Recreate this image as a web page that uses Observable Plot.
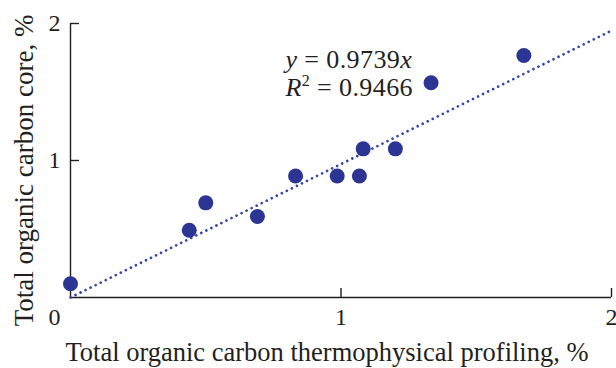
<!DOCTYPE html>
<html><head><meta charset="utf-8">
<script src="https://cdn.jsdelivr.net/npm/d3@7"></script>
<script src="https://cdn.jsdelivr.net/npm/@observablehq/plot@0.6"></script>
<style>
html,body{margin:0;padding:0;background:#fff;}
</style>
</head><body><div id="chart"></div>
<script>
// Data
const tocThermo = [0.00, 0.439, 0.500, 0.691, 0.832, 0.986, 1.068, 1.082, 1.201, 1.333, 1.676];
const tocCore   = [0.10, 0.491, 0.691, 0.591, 0.887, 0.887, 0.887, 1.085, 1.085, 1.567, 1.766];
const xTicks = [1, 2];
const yTicks = [1, 2];
const originLabel = ["0"];
const slope = 0.9739;
const r2 = 0.9466;
const xLabel = ["Total organic carbon thermophysical profiling, %"];
const yLabel = ["Total organic carbon core, %"];
const xDomain = [0, 2];
const yDomain = [0, 2];

const points = tocThermo.map((x, i) => ({x, y: tocCore[i]}));
const fit = xDomain.map(x => ({x, y: slope * x}));
const eq1 = `y = ${slope}x`;
const eq2 = `R2 = ${r2}`;

const blue = "#2c3494";
const lineBlue = "#3346a8";
const ink = "#231f20";
const serif = "'Liberation Serif', 'Times New Roman', serif";

const chart = Plot.plot({
  width: 616, height: 368,
  marginLeft: 70, marginRight: 5, marginTop: 23, marginBottom: 71,
  x: {domain: xDomain, axis: null},
  y: {domain: yDomain, axis: null},
  style: {fontFamily: serif, background: "#fff"},
  marks: [
    Plot.ruleX([xDomain[0]], {y1: yDomain[0], y2: yDomain[1], stroke: ink, strokeWidth: 1.4}),
    Plot.ruleY([yDomain[0]], {x1: xDomain[0], x2: xDomain[1], stroke: ink, strokeWidth: 1.4}),
    Plot.ruleX(xTicks, {x: d => d, y1: 0, y2: 0, insetTop: -9, stroke: ink, strokeWidth: 1.4}),
    Plot.ruleY(yTicks, {y: d => d, x1: 0, x2: 0, insetRight: -9, stroke: ink, strokeWidth: 1.4}),
    Plot.text(xTicks, {x: d => d, y: 0, text: d => String(d), dy: 19.5, fontSize: 24, fill: ink}),
    Plot.text(yTicks, {x: 0, y: d => d, text: d => String(d), textAnchor: "end", dx: -10, fontSize: 24, fill: ink}),
    Plot.text(originLabel, {x: 0, y: 0, text: d => d, textAnchor: "end", dx: -10, dy: 19.5, fontSize: 24, fill: ink}),
    Plot.text(xLabel, {frameAnchor: "bottom", text: d => d, textAnchor: "middle", lineAnchor: "middle", dx: -14, dy: 55, fontSize: 26.5, fill: ink}),
    Plot.text(yLabel, {frameAnchor: "left", rotate: -90, text: d => d, textAnchor: "middle", lineAnchor: "middle", dx: -46.6, dy: 10, fontSize: 27, fill: ink}),
    Plot.line(fit, {x: "x", y: "y", stroke: lineBlue, strokeWidth: 2.7, strokeLinecap: "round", strokeDasharray: "0.01,5.6"}),
    Plot.dot(points, {x: "x", y: "y", r: 7.5, fill: blue, stroke: "none"}),
    Plot.text([eq1], {frameAnchor: "top-left", text: d => d, textAnchor: "start", lineAnchor: "middle", dx: 215, dy: 36.5, fontSize: 26, fill: ink}),
    Plot.text([eq2], {frameAnchor: "top-left", text: d => d, textAnchor: "start", lineAnchor: "middle", dx: 215, dy: 64, fontSize: 26, fill: ink})
  ]
});

// Rich formatting of the equation (italics, superscript), keeping real text
d3.select(chart).selectAll("text").each(function() {
  const t = this.textContent;
  const sel = d3.select(this);
  if (t === eq1) {
    sel.text(null).attr("letter-spacing", "0.4");
    sel.append("tspan").attr("font-style", "italic").text("y");
    sel.append("tspan").text(` = ${slope}`);
    sel.append("tspan").attr("font-style", "italic").text("x");
  } else if (t === eq2) {
    sel.text(null).attr("letter-spacing", "0.4");
    sel.append("tspan").attr("font-style", "italic").text("R");
    sel.append("tspan").attr("font-size", "16").attr("dy", "-10").text("2");
    sel.append("tspan").attr("dy", "10").text(` = ${r2}`);
  }
});

document.getElementById("chart").append(chart);
</script>
</body></html>
